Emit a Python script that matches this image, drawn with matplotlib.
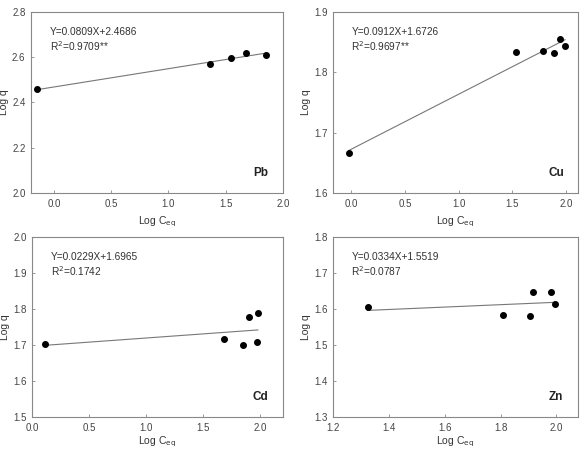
import numpy as np
import matplotlib.pyplot as plt

plt.rcParams['font.family'] = ['Liberation Sans', 'DejaVu Sans']

# data
metals = ["Pb", "Cu", "Cd", "Zn"]
x_pb = [-0.15, 1.36, 1.55, 1.68, 1.85]
y_pb = [2.46, 2.568, 2.597, 2.62, 2.609]
x_cu = [-0.02, 1.53, 1.78, 1.89, 1.94, 1.99]
y_cu = [1.667, 1.833, 1.835, 1.832, 1.856, 1.843]
x_cd = [0.11, 1.68, 1.85, 1.90, 1.97, 1.98]
y_cd = [1.703, 1.718, 1.699, 1.779, 1.709, 1.789]
x_zn = [1.325, 1.81, 1.905, 1.915, 1.98, 1.995]
y_zn = [1.605, 1.582, 1.580, 1.648, 1.648, 1.613]

slopes = [0.0809, 0.0912, 0.0229, 0.0334]
intercepts = [2.4686, 1.6726, 1.6965, 1.5519]
r2_text = ["0.9709**", "0.9697**", "0.1742", "0.0787"]

xlims = [(-0.2, 2.0), (-0.17, 2.11), (0.0, 2.2), (1.2, 2.077)]
ylims = [(2.0, 2.8), (1.6, 1.9), (1.5, 2.0), (1.3, 1.8)]
xticks = [np.arange(0, 2.01, 0.5), np.arange(0, 2.01, 0.5),
          np.arange(0, 2.01, 0.5), np.arange(1.2, 2.01, 0.2)]
yticks = [np.arange(2.0, 2.81, 0.2), np.arange(1.6, 1.91, 0.1),
          np.arange(1.5, 2.01, 0.1), np.arange(1.3, 1.81, 0.1)]

xs = [x_pb, x_cu, x_cd, x_zn]
ys = [y_pb, y_cu, y_cd, y_zn]

W, H = 588, 449
# axes boxes in pixels: left, right, top, bottom
boxes = [(31, 283, 12, 193), (333, 578, 12, 193),
         (32, 283, 237, 417), (333, 578, 237, 417)]

fig = plt.figure(figsize=(5.88, 4.49), dpi=100)

for i in range(4):
    l, r, t, b = boxes[i]
    ax = fig.add_axes([l / W, 1 - b / H, (r - l) / W, (b - t) / H])
    x = np.array(xs[i])
    y = np.array(ys[i])
    xx = np.array([x.min(), x.max()])
    ax.plot(xx, slopes[i] * xx + intercepts[i], color="#777777", lw=0.8)
    ax.plot(x, y, "o", color="black", ms=4)
    ax.set_xlim(xlims[i])
    ax.set_ylim(ylims[i])
    ax.set_xticks(xticks[i])
    ax.set_yticks(yticks[i])
    ax.xaxis.set_major_formatter(plt.FormatStrFormatter('%.1f'))
    ax.yaxis.set_major_formatter(plt.FormatStrFormatter('%.1f'))
    ax.tick_params(direction="in", length=2, width=0.6, color="#888888",
                   labelsize=7, labelcolor="#444444", pad=4)
    for s in ax.spines.values():
        s.set_color("#888888")
        s.set_linewidth(0.8)
    ax.set_ylabel("Log q", fontsize=7.5, color="#333333", labelpad=2)
    ax.set_xlabel("Log C$_{\\mathrm{eq}}$", fontsize=7.5, color="#333333",
                  labelpad=4 if i < 2 else 1.5)
    ax.text(0.075, 0.89, "Y=%.4fX+%.4f" % (slopes[i], intercepts[i]),
            transform=ax.transAxes, fontsize=7.3, color="#333333", va="center")
    ax.text(0.075, 0.81, "R$^2$=" + r2_text[i],
            transform=ax.transAxes, fontsize=7.3, color="#333333", va="center")
    ax.text(0.91, 0.11, metals[i], transform=ax.transAxes, fontsize=8.5,
            fontweight="bold", color="#222222", ha="center", va="center")

fig.savefig("out.png", dpi=100)
